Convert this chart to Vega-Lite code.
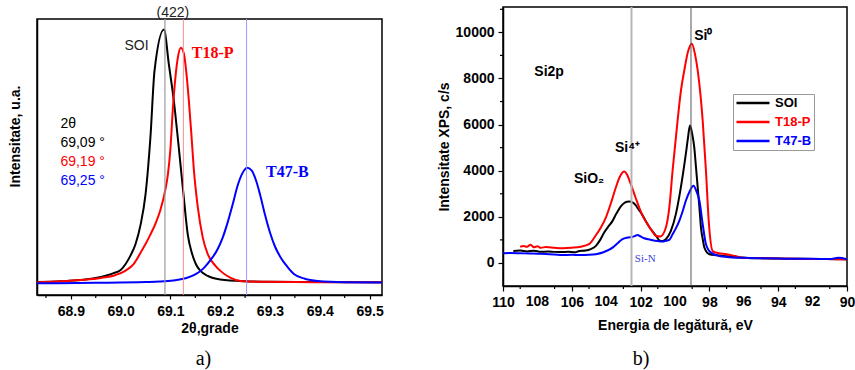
{
"$schema":"https://vega.github.io/schema/vega-lite/v6.json",
"background":"white",
"padding":{"left":7,"top":5,"right":5,"bottom":0},
"spacing":52,
"resolve":{"scale":{"color":"independent"},"legend":{"color":"independent"}},
"config":{
 "view":{"stroke":"#000","strokeWidth":1.5},
 "axis":{"domainColor":"#000","domainWidth":1.5,"tickColor":"#000","tickWidth":1.2,"labelFont":"Liberation Sans","labelFontSize":14,"labelFontWeight":"bold","labelColor":"#000","titleFont":"Liberation Sans","titleFontSize":14,"titleFontWeight":"bold","titleColor":"#000","grid":false,"labelFlush":false,"labelOverlap":false},
 "title":{"font":"Liberation Serif","fontSize":20,"fontWeight":"normal","color":"#000"}
},
"datasets":{
 "xrd":[
  {"x":68.832,"y":0.005,"s":"SOI"},{"x":68.88,"y":0.008,"s":"SOI"},{"x":68.92,"y":0.013,"s":"SOI"},{"x":68.95,"y":0.021,"s":"SOI"},{"x":68.97,"y":0.03,"s":"SOI"},{"x":68.986,"y":0.04,"s":"SOI"},{"x":69.0,"y":0.052,"s":"SOI"},{"x":69.01,"y":0.076,"s":"SOI"},{"x":69.02,"y":0.11,"s":"SOI"},{"x":69.03,"y":0.155,"s":"SOI"},{"x":69.04,"y":0.23,"s":"SOI"},{"x":69.05,"y":0.35,"s":"SOI"},{"x":69.06,"y":0.58,"s":"SOI"},{"x":69.068,"y":0.836,"s":"SOI"},{"x":69.087,"y":1.0,"s":"SOI"},{"x":69.097,"y":0.86,"s":"SOI"},{"x":69.107,"y":0.717,"s":"SOI"},{"x":69.116,"y":0.55,"s":"SOI"},{"x":69.125,"y":0.375,"s":"SOI"},{"x":69.135,"y":0.19,"s":"SOI"},{"x":69.143,"y":0.12,"s":"SOI"},{"x":69.151,"y":0.076,"s":"SOI"},{"x":69.16,"y":0.05,"s":"SOI"},{"x":69.175,"y":0.029,"s":"SOI"},{"x":69.2,"y":0.015,"s":"SOI"},{"x":69.25,"y":0.008,"s":"SOI"},{"x":69.3,"y":0.006,"s":"SOI"},{"x":69.4,"y":0.005,"s":"SOI"},{"x":69.525,"y":0.004,"s":"SOI"},
  {"x":68.832,"y":0.004,"s":"T18-P"},{"x":68.88,"y":0.008,"s":"T18-P"},{"x":68.92,"y":0.013,"s":"T18-P"},{"x":68.96,"y":0.021,"s":"T18-P"},{"x":68.99,"y":0.033,"s":"T18-P"},{"x":69.01,"y":0.05,"s":"T18-P"},{"x":69.026,"y":0.076,"s":"T18-P"},{"x":69.04,"y":0.12,"s":"T18-P"},{"x":69.06,"y":0.193,"s":"T18-P"},{"x":69.07,"y":0.235,"s":"T18-P"},{"x":69.08,"y":0.29,"s":"T18-P"},{"x":69.09,"y":0.37,"s":"T18-P"},{"x":69.095,"y":0.43,"s":"T18-P"},{"x":69.1,"y":0.53,"s":"T18-P"},{"x":69.105,"y":0.69,"s":"T18-P"},{"x":69.11,"y":0.81,"s":"T18-P"},{"x":69.115,"y":0.89,"s":"T18-P"},{"x":69.121,"y":0.928,"s":"T18-P"},{"x":69.127,"y":0.905,"s":"T18-P"},{"x":69.132,"y":0.83,"s":"T18-P"},{"x":69.137,"y":0.72,"s":"T18-P"},{"x":69.142,"y":0.59,"s":"T18-P"},{"x":69.147,"y":0.45,"s":"T18-P"},{"x":69.155,"y":0.3,"s":"T18-P"},{"x":69.165,"y":0.18,"s":"T18-P"},{"x":69.175,"y":0.115,"s":"T18-P"},{"x":69.19,"y":0.07,"s":"T18-P"},{"x":69.201,"y":0.048,"s":"T18-P"},{"x":69.22,"y":0.022,"s":"T18-P"},{"x":69.241,"y":0.009,"s":"T18-P"},{"x":69.28,"y":0.006,"s":"T18-P"},{"x":69.35,"y":0.005,"s":"T18-P"},{"x":69.45,"y":0.004,"s":"T18-P"},{"x":69.525,"y":0.004,"s":"T18-P"},
  {"x":68.832,"y":0.0,"s":"T47-B"},{"x":68.95,"y":0.002,"s":"T47-B"},{"x":69.05,"y":0.005,"s":"T47-B"},{"x":69.095,"y":0.009,"s":"T47-B"},{"x":69.13,"y":0.02,"s":"T47-B"},{"x":69.15,"y":0.035,"s":"T47-B"},{"x":69.167,"y":0.06,"s":"T47-B"},{"x":69.18,"y":0.09,"s":"T47-B"},{"x":69.195,"y":0.135,"s":"T47-B"},{"x":69.205,"y":0.18,"s":"T47-B"},{"x":69.215,"y":0.24,"s":"T47-B"},{"x":69.225,"y":0.31,"s":"T47-B"},{"x":69.235,"y":0.385,"s":"T47-B"},{"x":69.245,"y":0.435,"s":"T47-B"},{"x":69.254,"y":0.455,"s":"T47-B"},{"x":69.263,"y":0.445,"s":"T47-B"},{"x":69.272,"y":0.405,"s":"T47-B"},{"x":69.28,"y":0.35,"s":"T47-B"},{"x":69.29,"y":0.27,"s":"T47-B"},{"x":69.3,"y":0.2,"s":"T47-B"},{"x":69.31,"y":0.145,"s":"T47-B"},{"x":69.322,"y":0.1,"s":"T47-B"},{"x":69.335,"y":0.065,"s":"T47-B"},{"x":69.348,"y":0.037,"s":"T47-B"},{"x":69.37,"y":0.018,"s":"T47-B"},{"x":69.396,"y":0.009,"s":"T47-B"},{"x":69.45,"y":0.004,"s":"T47-B"},{"x":69.525,"y":0.003,"s":"T47-B"}
 ],
 "xps":[
  {"x":109.4,"y":520,"s":"SOI"},{"x":109.0,"y":540,"s":"SOI"},{"x":108.6,"y":500,"s":"SOI"},{"x":108.2,"y":530,"s":"SOI"},{"x":107.8,"y":480,"s":"SOI"},{"x":107.4,"y":500,"s":"SOI"},{"x":107.0,"y":480,"s":"SOI"},{"x":106.6,"y":470,"s":"SOI"},{"x":106.2,"y":480,"s":"SOI"},{"x":105.8,"y":460,"s":"SOI"},{"x":105.57,"y":521,"s":"SOI"},{"x":105.2,"y":540,"s":"SOI"},{"x":104.9,"y":600,"s":"SOI"},{"x":104.6,"y":738,"s":"SOI"},{"x":104.35,"y":1000,"s":"SOI"},{"x":104.12,"y":1317,"s":"SOI"},{"x":103.9,"y":1550,"s":"SOI"},{"x":103.63,"y":1824,"s":"SOI"},{"x":103.4,"y":2150,"s":"SOI"},{"x":103.15,"y":2450,"s":"SOI"},{"x":102.95,"y":2600,"s":"SOI"},{"x":102.8,"y":2650,"s":"SOI"},{"x":102.66,"y":2662,"s":"SOI"},{"x":102.5,"y":2640,"s":"SOI"},{"x":102.3,"y":2520,"s":"SOI"},{"x":102.15,"y":2350,"s":"SOI"},{"x":101.98,"y":2184,"s":"SOI"},{"x":101.7,"y":1820,"s":"SOI"},{"x":101.4,"y":1463,"s":"SOI"},{"x":101.1,"y":1180,"s":"SOI"},{"x":100.91,"y":980,"s":"SOI"},{"x":100.72,"y":955,"s":"SOI"},{"x":100.53,"y":1030,"s":"SOI"},{"x":100.24,"y":1391,"s":"SOI"},{"x":99.95,"y":2117,"s":"SOI"},{"x":99.66,"y":3274,"s":"SOI"},{"x":99.37,"y":4726,"s":"SOI"},{"x":99.25,"y":5400,"s":"SOI"},{"x":99.13,"y":5957,"s":"SOI"},{"x":99.0,"y":5600,"s":"SOI"},{"x":98.88,"y":5013,"s":"SOI"},{"x":98.78,"y":4150,"s":"SOI"},{"x":98.68,"y":3274,"s":"SOI"},{"x":98.58,"y":2400,"s":"SOI"},{"x":98.49,"y":1535,"s":"SOI"},{"x":98.38,"y":1000,"s":"SOI"},{"x":98.29,"y":665,"s":"SOI"},{"x":98.0,"y":378,"s":"SOI"},{"x":97.6,"y":330,"s":"SOI"},{"x":97.0,"y":290,"s":"SOI"},{"x":96.0,"y":230,"s":"SOI"},{"x":95.0,"y":200,"s":"SOI"},{"x":94.0,"y":190,"s":"SOI"},{"x":93.0,"y":180,"s":"SOI"},{"x":92.0,"y":175,"s":"SOI"},{"x":91.0,"y":170,"s":"SOI"},{"x":90.0,"y":160,"s":"SOI"},
  {"x":109.0,"y":700,"s":"T18-P"},{"x":108.8,"y":730,"s":"T18-P"},{"x":108.6,"y":700,"s":"T18-P"},{"x":108.4,"y":790,"s":"T18-P"},{"x":108.2,"y":680,"s":"T18-P"},{"x":108.0,"y":720,"s":"T18-P"},{"x":107.8,"y":660,"s":"T18-P"},{"x":107.5,"y":690,"s":"T18-P"},{"x":107.0,"y":660,"s":"T18-P"},{"x":106.55,"y":640,"s":"T18-P"},{"x":106.0,"y":660,"s":"T18-P"},{"x":105.5,"y":700,"s":"T18-P"},{"x":105.0,"y":812,"s":"T18-P"},{"x":104.6,"y":1200,"s":"T18-P"},{"x":104.3,"y":1550,"s":"T18-P"},{"x":104.02,"y":1967,"s":"T18-P"},{"x":103.7,"y":2650,"s":"T18-P"},{"x":103.44,"y":3274,"s":"T18-P"},{"x":103.2,"y":3750,"s":"T18-P"},{"x":102.95,"y":3964,"s":"T18-P"},{"x":102.8,"y":3850,"s":"T18-P"},{"x":102.57,"y":3417,"s":"T18-P"},{"x":102.3,"y":2850,"s":"T18-P"},{"x":102.08,"y":2401,"s":"T18-P"},{"x":101.85,"y":2000,"s":"T18-P"},{"x":101.6,"y":1680,"s":"T18-P"},{"x":101.35,"y":1400,"s":"T18-P"},{"x":101.11,"y":1172,"s":"T18-P"},{"x":100.85,"y":1150,"s":"T18-P"},{"x":100.53,"y":1535,"s":"T18-P"},{"x":100.33,"y":2405,"s":"T18-P"},{"x":100.14,"y":4000,"s":"T18-P"},{"x":99.85,"y":6174,"s":"T18-P"},{"x":99.65,"y":7500,"s":"T18-P"},{"x":99.46,"y":8348,"s":"T18-P"},{"x":99.25,"y":9150,"s":"T18-P"},{"x":99.02,"y":9509,"s":"T18-P"},{"x":98.85,"y":9100,"s":"T18-P"},{"x":98.68,"y":8348,"s":"T18-P"},{"x":98.39,"y":6174,"s":"T18-P"},{"x":98.2,"y":4000,"s":"T18-P"},{"x":98.04,"y":1830,"s":"T18-P"},{"x":97.81,"y":520,"s":"T18-P"},{"x":97.5,"y":430,"s":"T18-P"},{"x":97.0,"y":380,"s":"T18-P"},{"x":96.5,"y":300,"s":"T18-P"},{"x":96.06,"y":230,"s":"T18-P"},{"x":95.0,"y":210,"s":"T18-P"},{"x":94.0,"y":190,"s":"T18-P"},{"x":93.0,"y":180,"s":"T18-P"},{"x":92.0,"y":170,"s":"T18-P"},{"x":91.0,"y":165,"s":"T18-P"},{"x":90.0,"y":150,"s":"T18-P"},
  {"x":110.0,"y":420,"s":"T47-B"},{"x":109.5,"y":430,"s":"T47-B"},{"x":109.0,"y":420,"s":"T47-B"},{"x":108.5,"y":410,"s":"T47-B"},{"x":108.0,"y":400,"s":"T47-B"},{"x":107.5,"y":390,"s":"T47-B"},{"x":107.0,"y":370,"s":"T47-B"},{"x":106.55,"y":348,"s":"T47-B"},{"x":106.0,"y":350,"s":"T47-B"},{"x":105.5,"y":340,"s":"T47-B"},{"x":105.0,"y":350,"s":"T47-B"},{"x":104.6,"y":378,"s":"T47-B"},{"x":104.2,"y":450,"s":"T47-B"},{"x":103.9,"y":550,"s":"T47-B"},{"x":103.63,"y":665,"s":"T47-B"},{"x":103.3,"y":880,"s":"T47-B"},{"x":103.05,"y":1030,"s":"T47-B"},{"x":102.75,"y":1100,"s":"T47-B"},{"x":102.47,"y":1130,"s":"T47-B"},{"x":102.3,"y":1180,"s":"T47-B"},{"x":102.18,"y":1217,"s":"T47-B"},{"x":102.0,"y":1150,"s":"T47-B"},{"x":101.79,"y":1073,"s":"T47-B"},{"x":101.55,"y":1030,"s":"T47-B"},{"x":101.3,"y":987,"s":"T47-B"},{"x":101.0,"y":950,"s":"T47-B"},{"x":100.72,"y":926,"s":"T47-B"},{"x":100.53,"y":957,"s":"T47-B"},{"x":100.33,"y":1000,"s":"T47-B"},{"x":100.14,"y":1248,"s":"T47-B"},{"x":99.95,"y":1500,"s":"T47-B"},{"x":99.75,"y":1826,"s":"T47-B"},{"x":99.55,"y":2250,"s":"T47-B"},{"x":99.37,"y":2696,"s":"T47-B"},{"x":99.15,"y":3100,"s":"T47-B"},{"x":98.93,"y":3348,"s":"T47-B"},{"x":98.75,"y":3100,"s":"T47-B"},{"x":98.58,"y":2696,"s":"T47-B"},{"x":98.39,"y":1683,"s":"T47-B"},{"x":98.2,"y":813,"s":"T47-B"},{"x":97.91,"y":448,"s":"T47-B"},{"x":97.42,"y":304,"s":"T47-B"},{"x":97.0,"y":260,"s":"T47-B"},{"x":96.0,"y":220,"s":"T47-B"},{"x":95.0,"y":200,"s":"T47-B"},{"x":94.0,"y":190,"s":"T47-B"},{"x":93.0,"y":180,"s":"T47-B"},{"x":92.0,"y":180,"s":"T47-B"},{"x":91.0,"y":170,"s":"T47-B"},{"x":90.5,"y":220,"s":"T47-B"},{"x":90.0,"y":160,"s":"T47-B"}
 ],
 "xrdGray":[{"x":69.105,"y":1.064,"t":"(422)"},{"x":69.032,"y":0.934,"t":"SOI"}],
 "xrdAngles":[{"x":68.879,"y":0.627,"t":"2θ","s":"SOI"},{"x":68.879,"y":0.552,"t":"69,09 °","s":"SOI"},{"x":68.879,"y":0.477,"t":"69,19 °","s":"T18-P"},{"x":68.879,"y":0.403,"t":"69,25 °","s":"T47-B"}],
 "xrdNames":[{"x":69.185,"y":0.908,"t":"T18-P","s":"T18-P"},{"x":69.335,"y":0.438,"t":"T47-B","s":"T47-B"}],
 "xrdMinor":[{"x":68.85},{"x":68.95},{"x":69.05},{"x":69.15},{"x":69.25},{"x":69.35},{"x":69.45}],
 "xpsLabels":[{"x":107.32,"y":8263,"t":"Si2p"},{"x":98.35,"y":9850,"t":"Si⁰"},{"x":102.76,"y":5006,"t":"Si⁴⁺"},{"x":104.99,"y":3660,"t":"SiO₂"}],
 "xpsSiN":[{"x":101.73,"y":187,"t":"Si-N"}],
 "xpsMinorX":[{"x":91},{"x":93},{"x":95},{"x":97},{"x":99},{"x":101},{"x":103},{"x":105},{"x":107},{"x":109}],
 "xpsMinorY":[{"y":1000},{"y":3000},{"y":5000},{"y":7000},{"y":9000},{"y":11000}],
 "xpsTickLabels":[{"x":92,"t":"92"},{"x":96,"t":"96"},{"x":100,"t":"100"},{"x":104,"t":"104"},{"x":108,"t":"108"}]
},
"hconcat":[
 {
  "vconcat":[
   {"width":20,"height":12,"data":{"values":[]},"mark":"point","view":{"stroke":null}},
   {
    "width":345,"height":276,
    "title":{"text":"a)","orient":"bottom","anchor":"middle","frame":"group","dx":-6,"offset":14},
    "layer":[
     {"data":{"name":"xrd"},"mark":{"type":"line","strokeWidth":2,"interpolate":"monotone","clip":true},
      "encoding":{
       "x":{"field":"x","type":"quantitative","scale":{"domain":[68.832,69.525],"nice":false,"zero":false},
         "axis":{"title":"2θ,grade","values":[68.9,69.0,69.1,69.2,69.3,69.4,69.5],"format":".1f","tickSize":4,"labelPadding":5,"titlePadding":3,"labelSeparation":-12}},
       "y":{"field":"y","type":"quantitative","scale":{"domain":[-0.046,1.041],"nice":false,"zero":false},
         "axis":{"title":"Intensitate, u.a.","labels":false,"ticks":false,"titlePadding":15,"titleY":117}},
       "color":{"field":"s","type":"nominal","scale":{"domain":["SOI","T18-P","T47-B"],"range":["#000000","#ff0000","#0000ff"]},"legend":null},
       "order":{"field":"x","type":"quantitative"}
      }},
     {"data":{"name":"xrdMinor"},"mark":{"type":"tick","orient":"vertical","size":3,"thickness":1.2,"color":"#000","opacity":1,"yOffset":1.5},
      "encoding":{"x":{"field":"x","type":"quantitative","scale":{"domain":[68.832,69.525],"nice":false,"zero":false}},"y":{"datum":-0.046,"type":"quantitative","scale":{"domain":[-0.046,1.041],"nice":false,"zero":false}}}},
     {"data":{"values":[{"x":69.089}]},"mark":{"type":"rule","color":"#9a9a9a","strokeWidth":1.2},"encoding":{"x":{"field":"x","type":"quantitative","scale":{"domain":[68.832,69.525],"nice":false,"zero":false}}}},
     {"data":{"values":[{"x":69.126}]},"mark":{"type":"rule","color":"#f29090","strokeWidth":1},"encoding":{"x":{"field":"x","type":"quantitative","scale":{"domain":[68.832,69.525],"nice":false,"zero":false}}}},
     {"data":{"values":[{"x":69.253}]},"mark":{"type":"rule","color":"#9a9af5","strokeWidth":1},"encoding":{"x":{"field":"x","type":"quantitative","scale":{"domain":[68.832,69.525],"nice":false,"zero":false}}}},
     {"data":{"name":"xrdGray"},"mark":{"type":"text","font":"Liberation Sans","fontSize":14,"color":"#222","align":"center","baseline":"middle"},
      "encoding":{"x":{"field":"x","type":"quantitative","scale":{"domain":[68.832,69.525],"nice":false,"zero":false}},"y":{"field":"y","type":"quantitative","scale":{"domain":[-0.046,1.041],"nice":false,"zero":false}},"text":{"field":"t"}}},
     {"data":{"name":"xrdAngles"},"mark":{"type":"text","font":"Liberation Sans","fontSize":14,"align":"left","baseline":"middle"},
      "encoding":{"x":{"field":"x","type":"quantitative","scale":{"domain":[68.832,69.525],"nice":false,"zero":false}},"y":{"field":"y","type":"quantitative","scale":{"domain":[-0.046,1.041],"nice":false,"zero":false}},"text":{"field":"t"},
       "color":{"field":"s","type":"nominal","scale":{"domain":["SOI","T18-P","T47-B"],"range":["#000000","#ff0000","#0000ff"]},"legend":null}}},
     {"data":{"name":"xrdNames"},"mark":{"type":"text","font":"Liberation Serif","fontSize":16,"fontWeight":"bold","align":"center","baseline":"middle"},
      "encoding":{"x":{"field":"x","type":"quantitative","scale":{"domain":[68.832,69.525],"nice":false,"zero":false}},"y":{"field":"y","type":"quantitative","scale":{"domain":[-0.046,1.041],"nice":false,"zero":false}},"text":{"field":"t"},
       "color":{"field":"s","type":"nominal","scale":{"domain":["SOI","T18-P","T47-B"],"range":["#000000","#ff0000","#0000ff"]},"legend":null}}}
    ]
   }
  ],
  "spacing":0,
  "bounds":"flush"
 },
 {
  "width":344,"height":279,
  "title":{"text":"b)","orient":"bottom","anchor":"middle","frame":"group","dx":-34,"offset":17},
  "layer":[
   {"data":{"name":"xps"},"mark":{"type":"line","strokeWidth":2,"interpolate":"monotone","clip":true},
    "encoding":{
     "x":{"field":"x","type":"quantitative","scale":{"domain":[90,110],"reverse":true,"nice":false,"zero":false},
       "axis":{"title":"Energia de legătură, eV","values":[90,92,94,96,98,100,102,104,106,108,110],"format":"d","tickSize":5,"labelPadding":4,"titlePadding":9,"labelSeparation":-12}},
     "y":{"field":"y","type":"quantitative","scale":{"domain":[-1000,11100],"nice":false,"zero":false},
       "axis":{"title":"Intensitate XPS, c/s","values":[0,2000,4000,6000,8000,10000],"format":"d","tickSize":5,"labelPadding":4,"titlePadding":4}},
     "color":{"field":"s","type":"nominal","scale":{"domain":["SOI","T18-P","T47-B"],"range":["#000000","#ff0000","#0000ff"]},
       "legend":{"orient":"none","legendX":230,"legendY":87,"title":null,"symbolType":"M-3,0H3","symbolSize":121,"symbolStrokeWidth":2.5,"symbolOffset":11,"labelOffset":15,"labelFont":"Liberation Sans","labelFontSize":13,"labelFontWeight":"bold","rowPadding":5,"padding":2,"strokeColor":"#999999","fillColor":"#ffffff",
         "encode":{"labels":{"update":{"fill":{"signal":"datum.value == 'T18-P' ? '#ff0000' : (datum.value == 'T47-B' ? '#0000ff' : '#000000')"}}}}}},
     "order":{"field":"x","type":"quantitative"}
    }},
   {"data":{"name":"xpsMinorX"},"mark":{"type":"tick","orient":"vertical","size":3,"thickness":1.2,"color":"#000","opacity":1,"yOffset":1.5},
    "encoding":{"x":{"field":"x","type":"quantitative","scale":{"domain":[90,110],"reverse":true,"nice":false,"zero":false}},"y":{"datum":-1000,"type":"quantitative","scale":{"domain":[-1000,11100],"nice":false,"zero":false}}}},
   {"data":{"name":"xpsMinorY"},"mark":{"type":"tick","orient":"horizontal","size":3,"thickness":1.2,"color":"#000","opacity":1,"xOffset":-1.5},
    "encoding":{"y":{"field":"y","type":"quantitative","scale":{"domain":[-1000,11100],"nice":false,"zero":false}},"x":{"datum":110,"type":"quantitative","scale":{"domain":[90,110],"reverse":true,"nice":false,"zero":false}}}},
   {"data":{"name":"xpsTickLabels"},"mark":{"type":"text","font":"Liberation Sans","fontSize":14,"fontWeight":"bold","color":"#000","align":"center","baseline":"top","dy":9},
    "encoding":{"x":{"field":"x","type":"quantitative","scale":{"domain":[90,110],"reverse":true,"nice":false,"zero":false}},"y":{"datum":-1000,"type":"quantitative","scale":{"domain":[-1000,11100],"nice":false,"zero":false}},"text":{"field":"t"}}},
   {"data":{"values":[{"x":102.53}]},"mark":{"type":"rule","color":"#b5b5b5","strokeWidth":2},"encoding":{"x":{"field":"x","type":"quantitative","scale":{"domain":[90,110],"reverse":true,"nice":false,"zero":false}}}},
   {"data":{"values":[{"x":99.07}]},"mark":{"type":"rule","color":"#555555","strokeWidth":1},"encoding":{"x":{"field":"x","type":"quantitative","scale":{"domain":[90,110],"reverse":true,"nice":false,"zero":false}}}},
   {"data":{"name":"xpsLabels"},"mark":{"type":"text","font":"Liberation Sans","fontSize":14,"fontWeight":"bold","color":"#000","align":"center","baseline":"middle"},
    "encoding":{"x":{"field":"x","type":"quantitative","scale":{"domain":[90,110],"reverse":true,"nice":false,"zero":false}},"y":{"field":"y","type":"quantitative","scale":{"domain":[-1000,11100],"nice":false,"zero":false}},"text":{"field":"t"}}},
   {"data":{"name":"xpsSiN"},"mark":{"type":"text","font":"Liberation Serif","fontSize":11,"color":"#3d3ddb","align":"center","baseline":"middle"},
    "encoding":{"x":{"field":"x","type":"quantitative","scale":{"domain":[90,110],"reverse":true,"nice":false,"zero":false}},"y":{"field":"y","type":"quantitative","scale":{"domain":[-1000,11100],"nice":false,"zero":false}},"text":{"field":"t"}}}
  ]
 }
]
}
